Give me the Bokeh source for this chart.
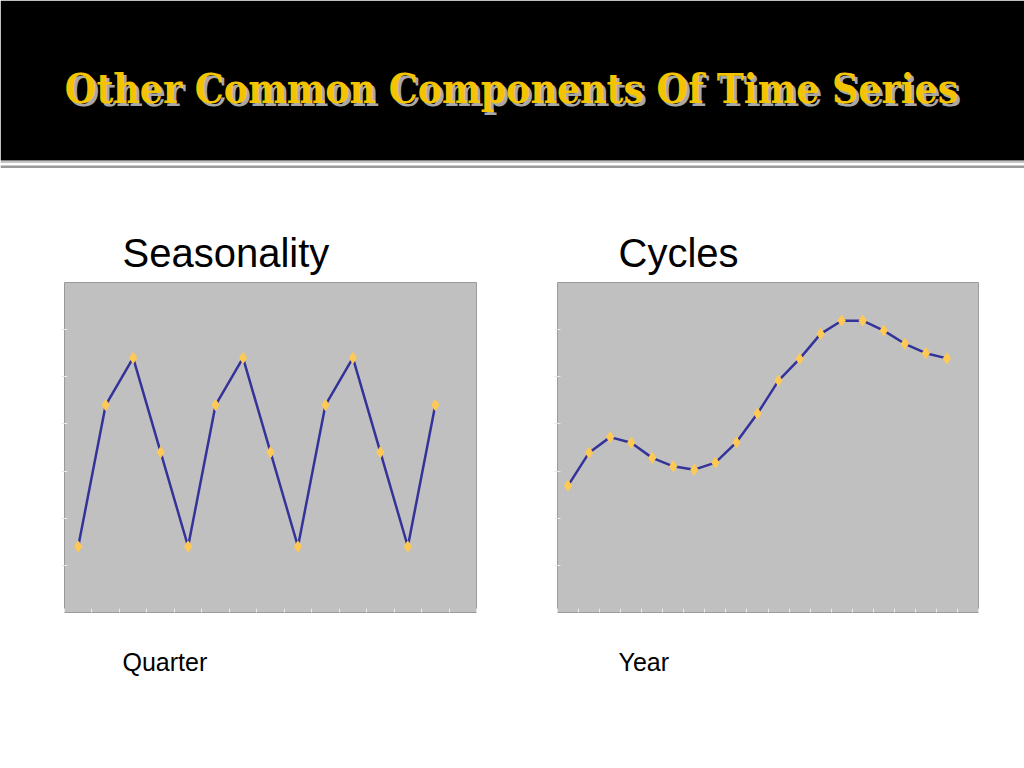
from bokeh.plotting import figure
from bokeh.layouts import column, row
from bokeh.models import Range1d, FixedTicker, BoxAnnotation, Label, ColumnDataSource
from bokeh.embed import file_html
from bokeh.resources import INLINE

# ---------------- data ----------------
title_text = "Other Common Components Of Time Series"
left_title = "Seasonality"
right_title = "Cycles"
left_xlabel = "Quarter"
right_xlabel = "Year"

quarters = [1, 2, 3, 4, 5, 6, 7, 8, 9, 10, 11, 12, 13, 14]
seasonal_values = [1.4, 4.4, 5.4, 3.4, 1.4, 4.4, 5.4, 3.4, 1.4, 4.4, 5.4, 3.4, 1.4, 4.4]

years = [1, 2, 3, 4, 5, 6, 7, 8, 9, 10, 11, 12, 13, 14, 15, 16, 17, 18, 19]
cycle_values = [2.69, 3.39, 3.72, 3.60, 3.28, 3.10, 3.03, 3.18, 3.61, 4.22,
                4.92, 5.38, 5.91, 6.19, 6.19, 5.98, 5.70, 5.50, 5.39]

n_quarter_slots = 15
n_year_slots = 20
y_ticks = [1, 2, 3, 4, 5, 6]
y_max = 7

LINE = "#333399"
MARK = "#FFC955"
BG = "#C0C0C0"
SANS = "Liberation Sans"
SERIF = "DejaVu Serif Condensed"


def header_figure():
    p = figure(width=1024, height=278, x_range=Range1d(0, 1024), y_range=Range1d(278, 0),
               output_backend="svg", toolbar_location=None, min_border=0)
    p.axis.visible = False
    p.grid.visible = False
    p.outline_line_color = None
    p.background_fill_color = "white"
    p.border_fill_color = "white"
    p.add_layout(BoxAnnotation(left=0, right=1024, top=0, bottom=160,
                               fill_color="black", fill_alpha=1, line_color=None))
    p.add_layout(BoxAnnotation(left=0, right=1024, top=160.5, bottom=162.5,
                               fill_color="#c4c4c4", fill_alpha=1, line_color=None))
    p.add_layout(BoxAnnotation(left=0, right=1024, top=165, bottom=167.5,
                               fill_color="#9a9a9a", fill_alpha=1, line_color=None))
    # title shadow and title
    p.add_layout(Label(x=514, y=91, text=title_text, text_align="center",
                       text_baseline="alphabetic", text_font=SERIF,
                       text_font_style="bold", text_font_size="40.5px", text_color="#a8a8a8"))
    p.add_layout(Label(x=511, y=88, text=title_text, text_align="center",
                       text_baseline="alphabetic", text_font=SERIF,
                       text_font_style="bold", text_font_size="40.5px", text_color="#F5C400"))
    p.add_layout(Label(x=122, y=252, text=left_title, text_align="left",
                       text_baseline="alphabetic", text_font=SANS,
                       text_font_size="40px", text_color="black"))
    p.add_layout(Label(x=618, y=252, text=right_title, text_align="left",
                       text_baseline="alphabetic", text_font=SANS,
                       text_font_size="40px", text_color="black"))
    return p


def footer_figure():
    p = figure(width=1024, height=143, x_range=Range1d(0, 1024), y_range=Range1d(768, 625),
               output_backend="svg", toolbar_location=None, min_border=0)
    p.axis.visible = False
    p.grid.visible = False
    p.outline_line_color = None
    p.border_fill_color = "white"
    p.add_layout(Label(x=122, y=661, text=left_xlabel, text_align="left",
                       text_baseline="alphabetic", text_font=SANS,
                       text_font_size="25px", text_color="black"))
    p.add_layout(Label(x=618, y=661, text=right_xlabel, text_align="left",
                       text_baseline="alphabetic", text_font=SANS,
                       text_font_size="25px", text_color="black"))
    return p


def chart(xs, ys, n_slots, width, bl, br):
    p = figure(width=width, height=347,
               x_range=Range1d(0.5, n_slots + 0.5), y_range=Range1d(0, y_max),
               output_backend="svg", toolbar_location=None,
               min_border_left=bl, min_border_right=br,
               min_border_top=4, min_border_bottom=13)
    p.background_fill_color = BG
    p.border_fill_color = "white"
    p.outline_line_color = "#9a9a9a"
    p.outline_line_width = 1
    p.grid.visible = False
    for ax in (p.xaxis[0], p.yaxis[0]):
        ax.axis_line_color = None
        ax.major_tick_line_color = "#e8e8e8"
        ax.major_tick_in = 4
        ax.major_tick_out = 0
        ax.minor_tick_line_color = None
        ax.major_label_text_font_size = "1px"
        ax.major_label_text_color = None
        ax.major_label_standoff = 0
    p.yaxis[0].major_tick_in = 3
    p.yaxis[0].major_tick_out = 3
    p.xaxis[0].ticker = FixedTicker(ticks=[i + 0.5 for i in range(n_slots + 1)])
    p.yaxis[0].ticker = FixedTicker(ticks=y_ticks)
    src = ColumnDataSource(dict(x=xs, y=ys))
    p.line("x", "y", source=src, line_color=LINE, line_width=2.5)
    p.scatter("x", "y", source=src, marker="diamond", size=11,
              fill_color=MARK, line_color=MARK)
    return p


c1 = chart(quarters, seasonal_values, n_quarter_slots, 516, 64, 40)
c2 = chart(years, cycle_values, n_year_slots, 508, 41, 46)

layout = column(header_figure(), row(c1, c2, spacing=0), footer_figure(), spacing=0)

open("out.html", "w").write(file_html(layout, INLINE))
